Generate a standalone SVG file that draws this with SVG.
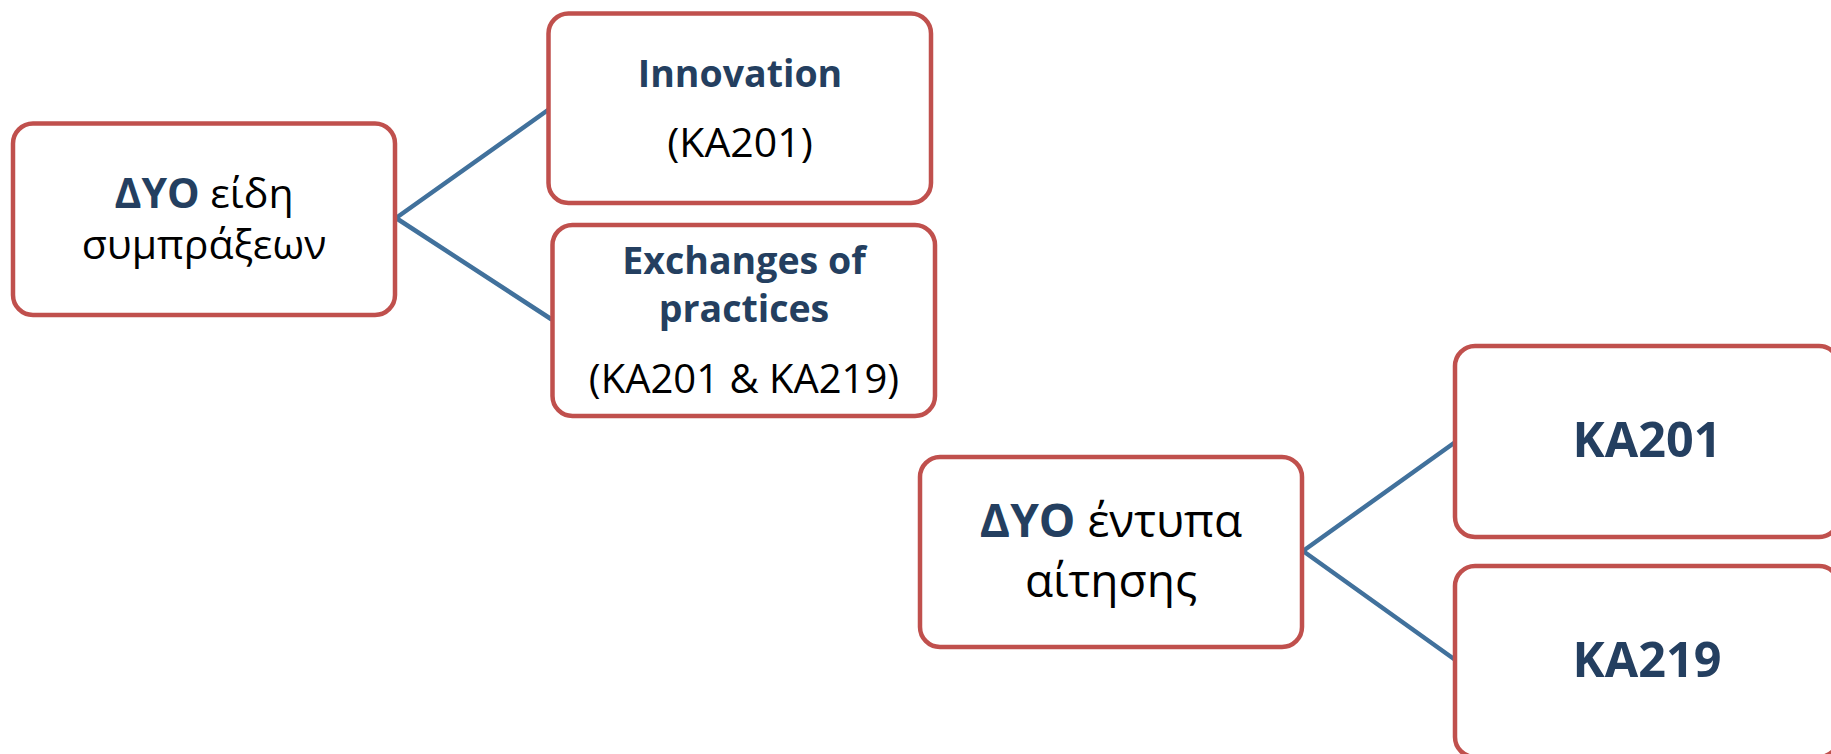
<svg xmlns="http://www.w3.org/2000/svg" width="1831" height="754" viewBox="0 0 1831 754">
<style>
.box{fill:#FFFFFF;stroke:#C0504D;stroke-width:4.5}
.conn{stroke:#41719C;stroke-width:4.5;fill:none;stroke-linecap:round}
text{font-family:"Open Sans","Noto Sans","DejaVu Sans",sans-serif;text-anchor:middle}
.b{font-weight:bold;fill:#243F60}
.r{fill:#000000}
</style>
<rect width="1831" height="754" fill="#FFFFFF"/>
<g id="connectors">
<line class="conn" x1="396" y1="218" x2="548" y2="110"/>
<line class="conn" x1="396" y1="218" x2="551" y2="319"/>
<line class="conn" x1="1303" y1="551" x2="1454" y2="443"/>
<line class="conn" x1="1303" y1="551" x2="1454" y2="659"/>
</g>
<g id="node-dyo-eidi">
<rect class="box" x="13" y="123.5" width="382" height="191.5" rx="20"/>
<text x="204" y="208" font-size="41"><tspan class="b">ΔΥΟ</tspan><tspan class="r"> είδη</tspan></text>
<text class="r" x="204" y="259" font-size="41">συμπράξεων</text>
</g>
<g id="node-innovation">
<rect class="box" x="548.5" y="13.5" width="382.5" height="189.5" rx="20"/>
<text class="b" x="740" y="87" font-size="37.5">Innovation</text>
<text class="r" x="740" y="157" font-size="41">(KA201)</text>
</g>
<g id="node-exchanges">
<rect class="box" x="552.5" y="225" width="382.5" height="191" rx="20"/>
<text class="b" x="744" y="274" font-size="37.5">Exchanges of</text>
<text class="b" x="744" y="321.5" font-size="37.5">practices</text>
<text class="r" x="744" y="392.5" font-size="40">(KA201 &amp; KA219)</text>
</g>
<g id="node-dyo-entypa">
<rect class="box" x="920" y="457" width="382" height="190" rx="20"/>
<text x="1111" y="537" font-size="46"><tspan class="b">ΔΥΟ</tspan><tspan class="r"> έντυπα</tspan></text>
<text class="r" x="1111" y="597" font-size="46">αίτησης</text>
</g>
<g id="node-ka201">
<rect class="box" x="1455" y="346" width="384" height="191" rx="20"/>
<text class="b" x="1647" y="457" font-size="48.5">KA201</text>
</g>
<g id="node-ka219">
<rect class="box" x="1455" y="566" width="384" height="191" rx="20"/>
<text class="b" x="1647" y="677" font-size="48.5">KA219</text>
</g>
</svg>
